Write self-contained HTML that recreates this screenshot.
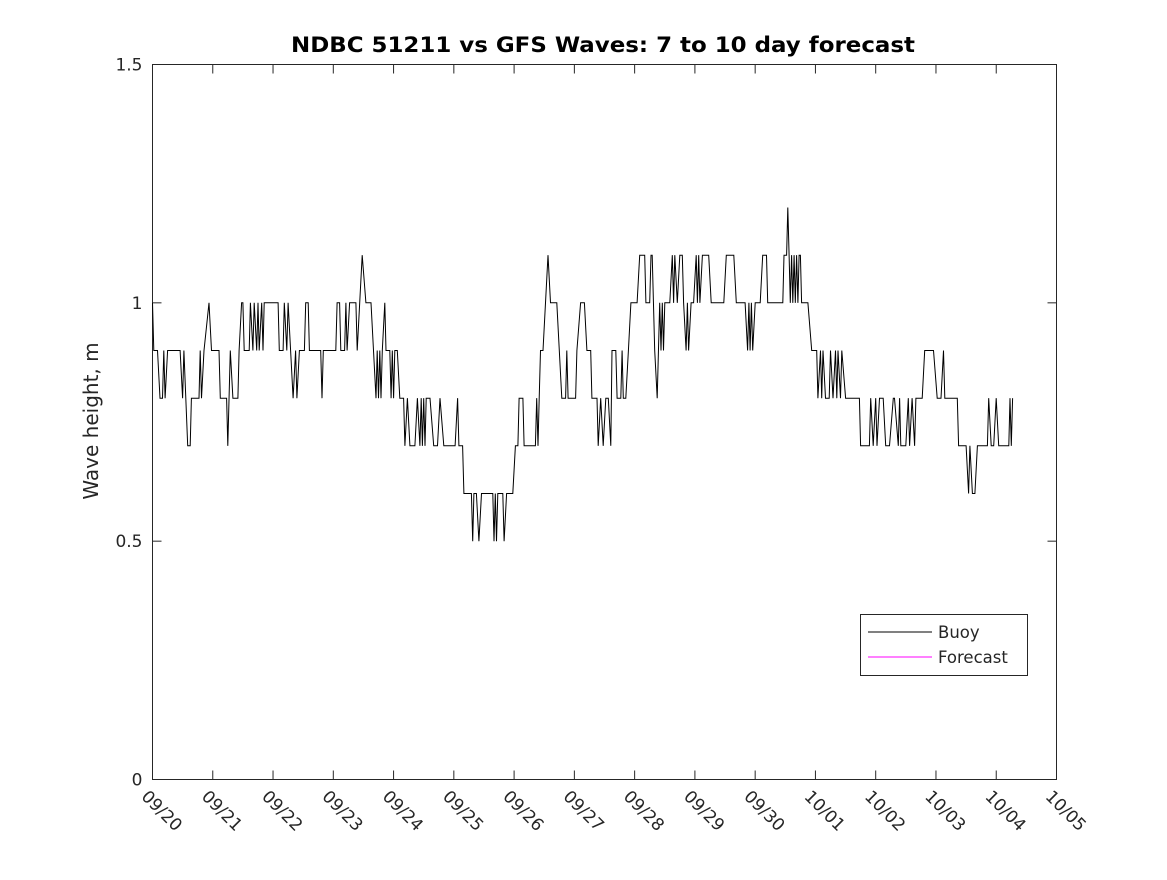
<!DOCTYPE html>
<html><head><meta charset="utf-8"><style>
body{margin:0;background:#fff;}
text{font-family:"DejaVu Sans","Liberation Sans",sans-serif;}
</style></head><body>
<svg id="chart" width="1167" height="875" xmlns="http://www.w3.org/2000/svg">
<rect width="1167" height="875" fill="#fff"/>
<text x="603" y="52" text-anchor="middle" font-size="21" font-weight="bold" textLength="624" lengthAdjust="spacingAndGlyphs">NDBC 51211 vs GFS Waves: 7 to 10 day forecast</text>
<text transform="translate(98,421) rotate(-90)" text-anchor="middle" font-size="20" fill="#262626">Wave height, m</text>
<g id="axes"></g>
<g id="series"></g>
<g>
<rect x="860.5" y="614.5" width="167" height="61" fill="#fff" stroke="#262626" stroke-width="1"/>
<line x1="868" y1="632" x2="932" y2="632" stroke="#000"/>
<text x="938" y="638" font-size="16.5" fill="#262626">Buoy</text>
<line x1="868" y1="657" x2="932" y2="657" stroke="#ff00ff"/>
<text x="938" y="663" font-size="16.5" fill="#262626">Forecast</text>
</g>
</svg>
<script>
const xTickLabels=["09/20","09/21","09/22","09/23","09/24","09/25","09/26","09/27","09/28","09/29","09/30","10/01","10/02","10/03","10/04","10/05"];
const yTicks=[0,0.5,1,1.5];
const yTickLabels=["0","0.5","1","1.5"];
// [hour since 09/20 00:00, wave height m]
const buoyPoints=[
[0,1.0],[0.5,0.9],[2,0.9],[3,0.8],[4,0.8],[4.5,0.9],[5,0.8],[6,0.9],[11,0.9],[12,0.8],[12.5,0.9],[14,0.7],[15,0.7],[15.5,0.8],[18.5,0.8],[19,0.9],[19.5,0.8],[20.5,0.9],[22.5,1.0],[23.5,0.9],[26.5,0.9],[27,0.8],[29.5,0.8],[30,0.7],[31,0.9],[32,0.8],[34,0.8],[34.5,0.9],[35.5,1.0],[36,1.0],[36.5,0.9],[38.5,0.9],[39,1.0],[40,0.9],[40.5,1.0],[41.5,0.9],[42,1.0],[42.5,0.9],[43.5,1.0],[44,0.9],[44.5,1.0],[46,1.0],[48.5,1.0],[50,1.0],[50.5,0.9],[52,0.9],[52.5,1.0],[53.5,0.9],[54,1.0],[55,0.9],[56,0.8],[57,0.9],[57.5,0.8],[58.5,0.9],[60.5,0.9],[61,1.0],[62,1.0],[62.5,0.9],[67,0.9],[67.5,0.8],[68,0.9],[73,0.9],[73.5,1.0],[74.5,1.0],[75,0.9],[76.5,0.9],[77,1.0],[77.5,0.9],[78.5,1.0],[81,1.0],[81.5,0.9],[82.5,1.0],[83.5,1.1],[85,1.0],[87,1.0],[88,0.9],[89,0.8],[89.5,0.9],[90,0.8],[90.5,0.9],[91,0.8],[91.5,0.9],[92.5,1.0],[93,0.9],[94.5,0.9],[95,0.8],[95.5,0.9],[96,0.8],[96.5,0.9],[97.5,0.9],[98.5,0.8],[100,0.8],[100.5,0.7],[101.5,0.8],[102.5,0.7],[104.5,0.7],[105.5,0.8],[106.5,0.7],[107,0.8],[107.5,0.7],[108,0.8],[108.5,0.7],[109,0.8],[110.5,0.8],[112,0.7],[113.5,0.7],[114.5,0.8],[116,0.7],[120.5,0.7],[121.5,0.8],[122,0.7],[123.5,0.7],[124,0.6],[127,0.6],[127.5,0.5],[128,0.6],[129,0.6],[130,0.5],[131,0.6],[135.5,0.6],[136,0.5],[136.5,0.6],[137,0.5],[137.5,0.6],[139.5,0.6],[140,0.5],[141,0.6],[143.5,0.6],[144.5,0.7],[145.5,0.7],[146,0.8],[147.5,0.8],[148,0.7],[152.5,0.7],[153,0.8],[153.5,0.7],[154,0.8],[154.5,0.9],[155.5,0.9],[156.5,1.0],[157.5,1.1],[158.5,1.0],[161,1.0],[162,0.9],[163,0.8],[164.5,0.8],[165,0.9],[165.5,0.8],[168.5,0.8],[169,0.9],[170.5,1.0],[172,1.0],[173,0.9],[174.5,0.9],[175,0.8],[177,0.8],[177.5,0.7],[178.5,0.8],[179.5,0.7],[180.5,0.8],[181.5,0.8],[182.5,0.7],[183,0.9],[184.5,0.9],[185,0.8],[186.5,0.8],[187,0.9],[187.5,0.8],[188.5,0.8],[189.5,0.9],[190.5,1.0],[193,1.0],[194,1.1],[196,1.1],[196.5,1.0],[198,1.0],[198.5,1.1],[199,1.1],[200,0.9],[201,0.8],[202,1.0],[202.5,0.9],[203,1.0],[203.5,0.9],[204,1.0],[206,1.0],[207,1.1],[207.5,1.0],[208,1.1],[209,1.0],[210,1.1],[211,1.1],[211.5,1.0],[212.5,0.9],[213,1.0],[213.5,0.9],[214.5,1.0],[215.5,1.0],[216.5,1.1],[217,1.0],[217.5,1.1],[218,1.0],[219,1.1],[221.5,1.1],[222.5,1.0],[227.5,1.0],[228.5,1.1],[231.5,1.1],[232.5,1.0],[236,1.0],[237,0.9],[237.5,1.0],[238,0.9],[238.5,1.0],[239,0.9],[240,1.0],[242,1.0],[243,1.1],[244.5,1.1],[245,1.0],[251,1.0],[251.5,1.1],[252.5,1.1],[253,1.2],[253.5,1.1],[254,1.0],[254.5,1.1],[255,1.0],[255.5,1.1],[256,1.0],[256.5,1.1],[257,1.0],[257.5,1.1],[258,1.1],[258.5,1.0],[261,1.0],[262.5,0.9],[264.5,0.9],[265,0.8],[266,0.9],[266.5,0.8],[267,0.9],[268,0.8],[269.5,0.8],[270,0.9],[271,0.8],[272,0.9],[272.5,0.8],[273,0.9],[274,0.8],[274.5,0.9],[276,0.8],[281.5,0.8],[282,0.7],[285.5,0.7],[286,0.8],[287,0.7],[288,0.8],[288.5,0.7],[289.5,0.8],[291,0.8],[292,0.7],[293.5,0.7],[295,0.8],[295.5,0.8],[297,0.7],[297.5,0.8],[298,0.7],[300,0.7],[301,0.8],[301.5,0.7],[302.5,0.8],[303.5,0.7],[304,0.8],[306.5,0.8],[307.5,0.9],[311,0.9],[312.5,0.8],[314,0.8],[315,0.9],[315.5,0.8],[320.5,0.8],[321,0.7],[324,0.7],[325,0.6],[325.5,0.7],[326.5,0.6],[327.5,0.6],[328.5,0.7],[332.5,0.7],[333,0.8],[334,0.7],[335,0.7],[336,0.8],[337,0.7],[341,0.7],[341.5,0.8],[342,0.7],[342.5,0.8]
];
const forecastPoints=[];

const L=152.5,R=1056.5,T=64.5,B=779.5;
const xDays=15, yMax=1.5;
const xScale=h=>L+(h/24)/xDays*(R-L);
const yScale=v=>B-v/yMax*(B-T);
const NS="http://www.w3.org/2000/svg";
const axes=document.getElementById('axes');
function mk(tag,attrs,parent){const e=document.createElementNS(NS,tag);for(const k in attrs)e.setAttribute(k,attrs[k]);parent.appendChild(e);return e;}
const box=mk('rect',{x:L,y:T,width:R-L,height:B-T,fill:'none',stroke:'#262626','stroke-width':1},axes);


xTickLabels.forEach((lab,i)=>{
  const x=xScale(i*24);
  const t1=mk('line',{x1:x,y1:B,x2:x,y2:B-9,stroke:'#262626'},axes);
  
  
  const t2=mk('line',{x1:x,y1:T,x2:x,y2:T+9,stroke:'#262626'},axes);
  
  
  const tx=mk('text',{transform:`translate(${x-12},${B+18}) rotate(45)`,'font-size':17,fill:'#262626'},axes);
  tx.textContent=lab;
  
  
});
yTicks.forEach((v,i)=>{
  const y=yScale(v);
  const a=mk('line',{x1:L,y1:y,x2:L+9,y2:y,stroke:'#262626'},axes);
  
  
  const b=mk('line',{x1:R,y1:y,x2:R-9,y2:y,stroke:'#262626'},axes);
  
  
  const tx=mk('text',{x:L-10,y:y+6,'text-anchor':'end','font-size':17,fill:'#262626'},axes);
  tx.textContent=yTickLabels[i];
  
  
});
const series=document.getElementById('series');
const pts=buoyPoints.map(p=>xScale(p[0]).toFixed(1)+','+yScale(p[1]).toFixed(1)).join(' ');
const line=mk('polyline',{points:pts,fill:'none',stroke:'#000','stroke-width':1},series);


if(forecastPoints.length){
  const fp=forecastPoints.map(p=>xScale(p[0])+','+yScale(p[1])).join(' ');
  const fl=mk('polyline',{points:fp,fill:'none',stroke:'#ff00ff'},series);
  
  
}
</script>
</body></html>
